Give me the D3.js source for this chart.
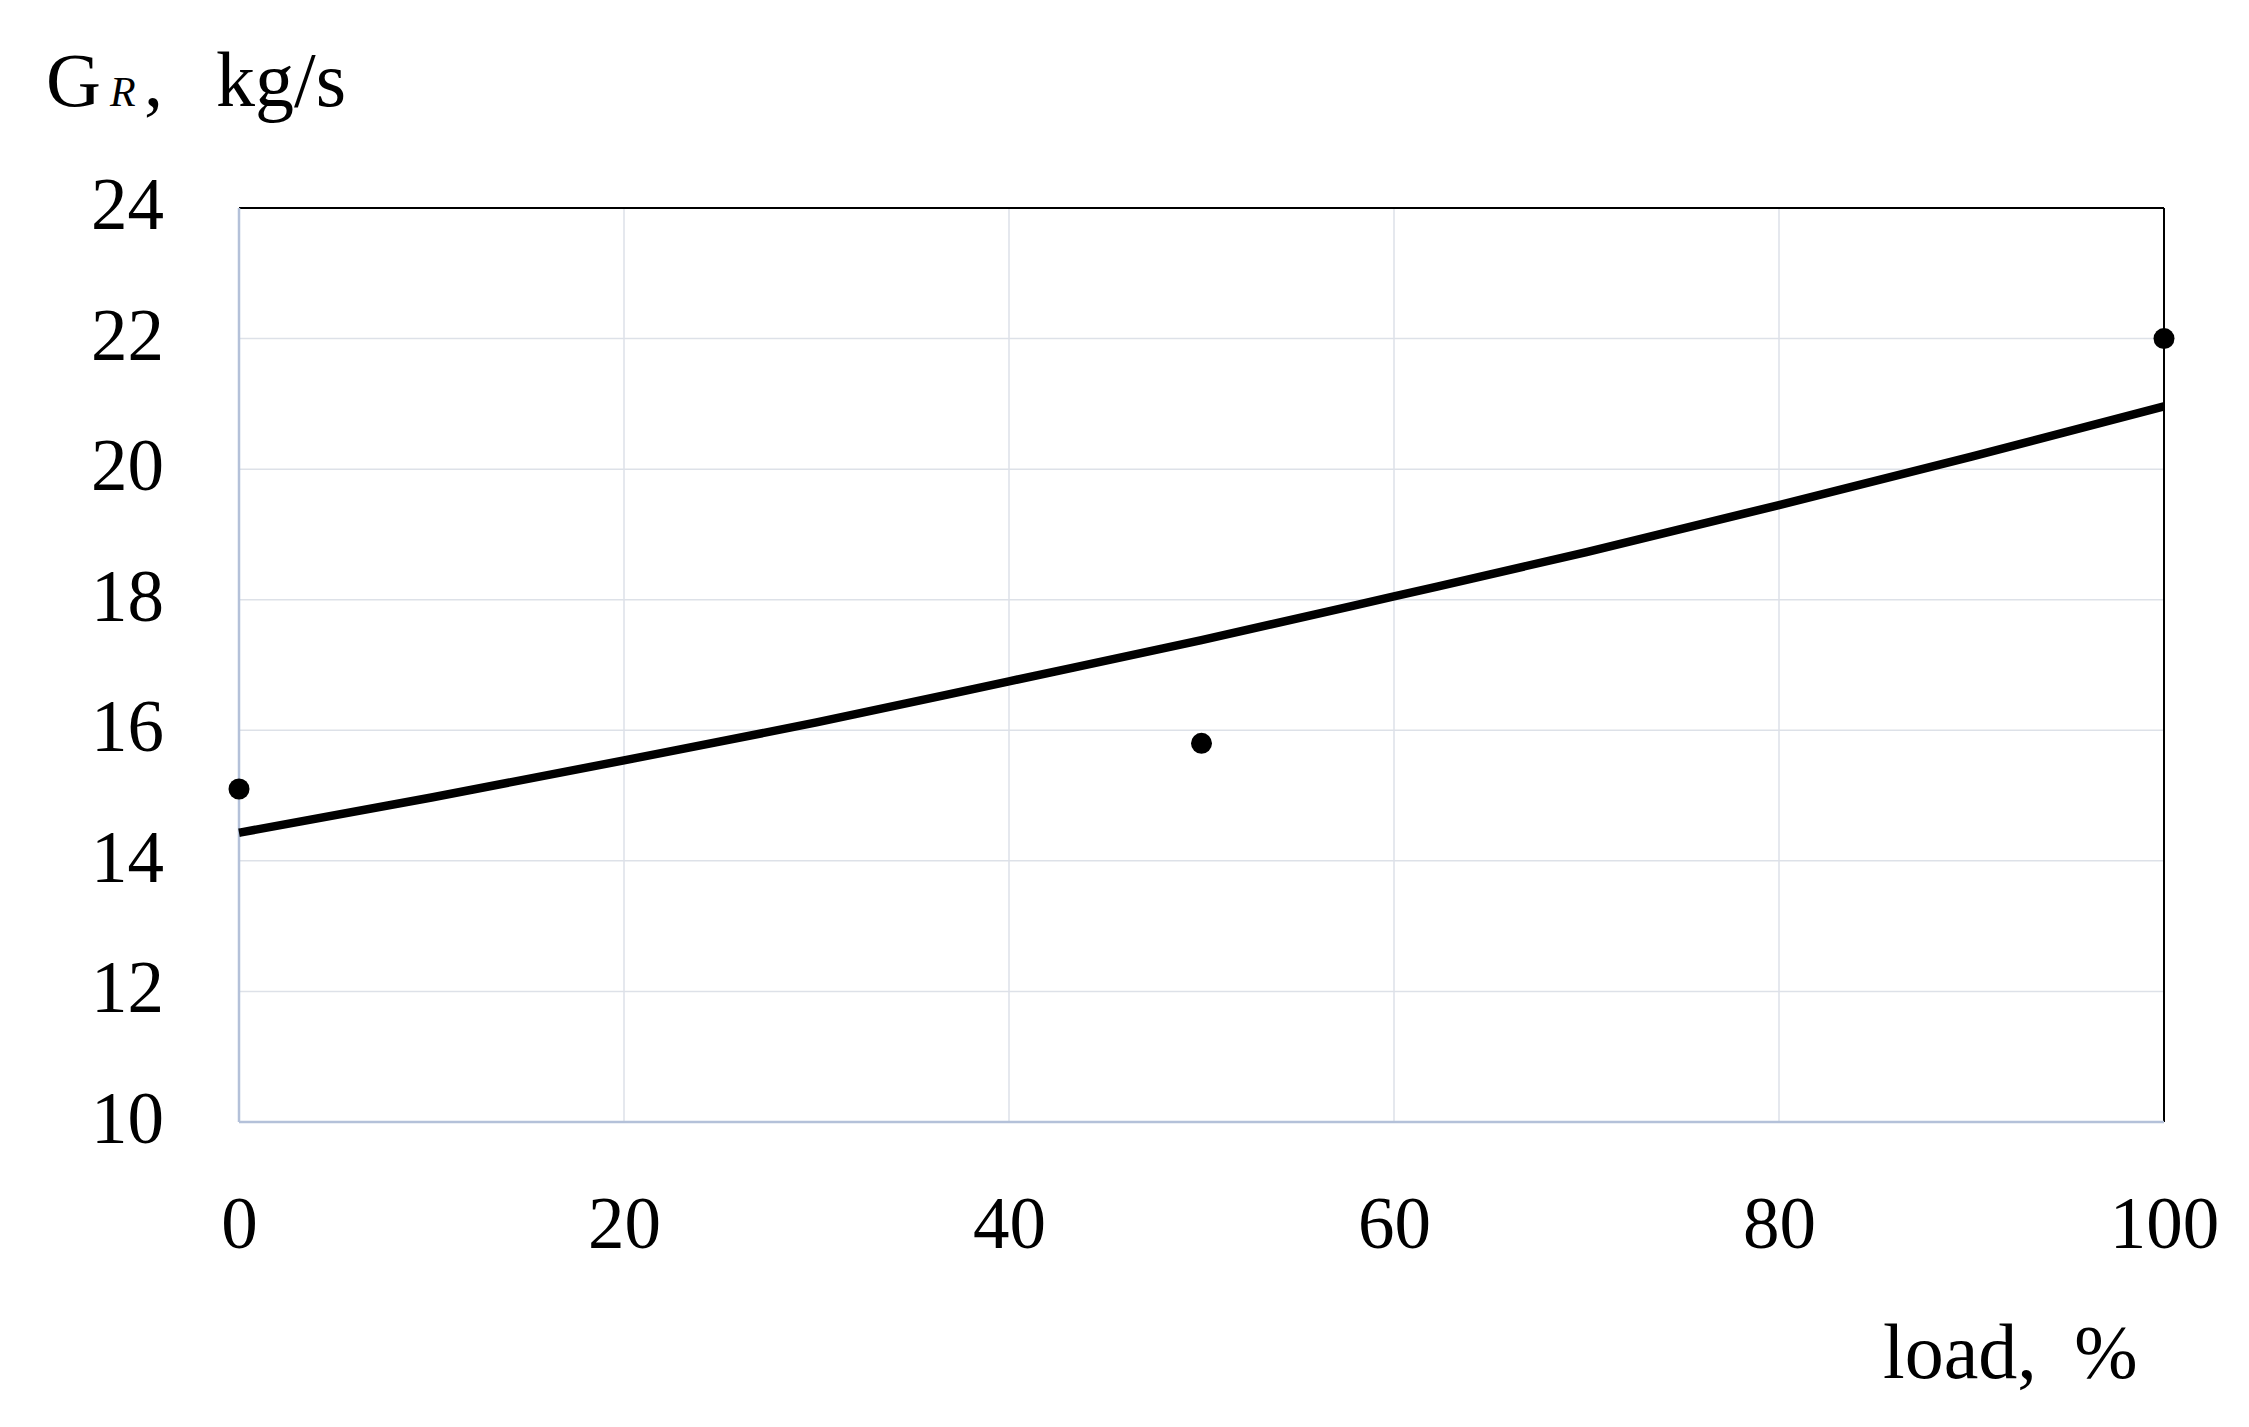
<!DOCTYPE html>
<html><head><meta charset="utf-8">
<script src="https://cdn.jsdelivr.net/npm/d3@7"></script>
<style>html,body{margin:0;padding:0;background:#fff;}</style>
</head><body>
<svg id="chart" width="2249" height="1427"></svg>
<script>
// Data
const pointLoads = [0, 50, 100];
const pointValues = [15.1, 15.8, 22.0];
const curveLoads = [0, 10, 20, 30, 40, 50, 60, 70, 80, 90, 100];
const curveValues = [14.43, 14.97, 15.54, 16.12, 16.75, 17.38, 18.05, 18.73, 19.45, 20.19, 20.96];
const xTicks = [0, 20, 40, 60, 80, 100];
const yTicks = [10, 12, 14, 16, 18, 20, 22, 24];

const svg = d3.select("#chart");
const m = {left: 239, right: 2164, top: 208, bottom: 1122};
const x = d3.scaleLinear().domain([0, 100]).range([m.left, m.right]);
const y = d3.scaleLinear().domain([10, 24]).range([m.bottom, m.top]);
const font = "'Liberation Serif', 'DejaVu Serif', serif";

// gridlines
svg.append("g").selectAll("line.h").data(yTicks.filter(d => d > 10 && d < 24)).join("line")
  .attr("x1", m.left).attr("x2", m.right).attr("y1", d => y(d)).attr("y2", d => y(d))
  .attr("stroke", "#dde1e8").attr("stroke-width", 1.5);
svg.append("g").selectAll("line.v").data(xTicks.filter(d => d > 0 && d < 100)).join("line")
  .attr("y1", m.top).attr("y2", m.bottom).attr("x1", d => x(d)).attr("x2", d => x(d))
  .attr("stroke", "#dde1e8").attr("stroke-width", 1.5);

// borders
svg.append("line").attr("x1", m.left).attr("x2", m.right).attr("y1", m.top).attr("y2", m.top)
  .attr("stroke", "#000").attr("stroke-width", 2);
svg.append("line").attr("x1", m.right).attr("x2", m.right).attr("y1", m.top).attr("y2", m.bottom)
  .attr("stroke", "#000").attr("stroke-width", 2);
svg.append("line").attr("x1", m.left).attr("x2", m.left).attr("y1", m.top).attr("y2", m.bottom)
  .attr("stroke", "#b4c1d9").attr("stroke-width", 2.5);
svg.append("line").attr("x1", m.left).attr("x2", m.right).attr("y1", m.bottom).attr("y2", m.bottom)
  .attr("stroke", "#b4c1d9").attr("stroke-width", 2.5);

// axes (labels only)
const yAxis = d3.axisLeft(y).tickValues(yTicks).tickSize(0).tickPadding(0);
const gy = svg.append("g").attr("transform", `translate(${164},0)`).call(yAxis);
gy.select(".domain").remove();
gy.selectAll("text").attr("font-family", font).attr("font-size", 73).attr("fill", "#000")
  .attr("dy", "0.28em");

const xAxis = d3.axisBottom(x).tickValues(xTicks).tickSize(0).tickPadding(0);
const gx = svg.append("g").attr("transform", `translate(0,${1248})`).call(xAxis);
gx.select(".domain").remove();
gx.selectAll("text").attr("font-family", font).attr("font-size", 73).attr("fill", "#000")
  .attr("dy", "0");

// trend curve
const line = d3.line().x((d, i) => x(curveLoads[i])).y(d => y(d)).curve(d3.curveMonotoneX);
svg.append("path").datum(curveValues).attr("d", line)
  .attr("fill", "none").attr("stroke", "#000").attr("stroke-width", 8.5);

// points
svg.append("g").selectAll("circle").data(pointValues).join("circle")
  .attr("cx", (d, i) => x(pointLoads[i])).attr("cy", d => y(d)).attr("r", 10.5).attr("fill", "#000");

// axis titles
const yt = svg.append("text").attr("font-family", font).attr("fill", "#000").attr("y", 106);
yt.append("tspan").attr("x", 46).attr("font-size", 76).text("G");
yt.append("tspan").attr("x", 110).attr("font-size", 42).attr("font-style", "italic").text("R");
yt.append("tspan").attr("x", 144).attr("font-size", 76).text(",");
yt.append("tspan").attr("x", 216).attr("font-size", 78).text("kg/s");

const xt = svg.append("text").attr("font-family", font).attr("fill", "#000").attr("y", 1378);
xt.append("tspan").attr("x", 1883).attr("font-size", 78).text("load,");
xt.append("tspan").attr("x", 2106).attr("font-size", 76).attr("text-anchor", "middle").text("%");
</script>
</body></html>
